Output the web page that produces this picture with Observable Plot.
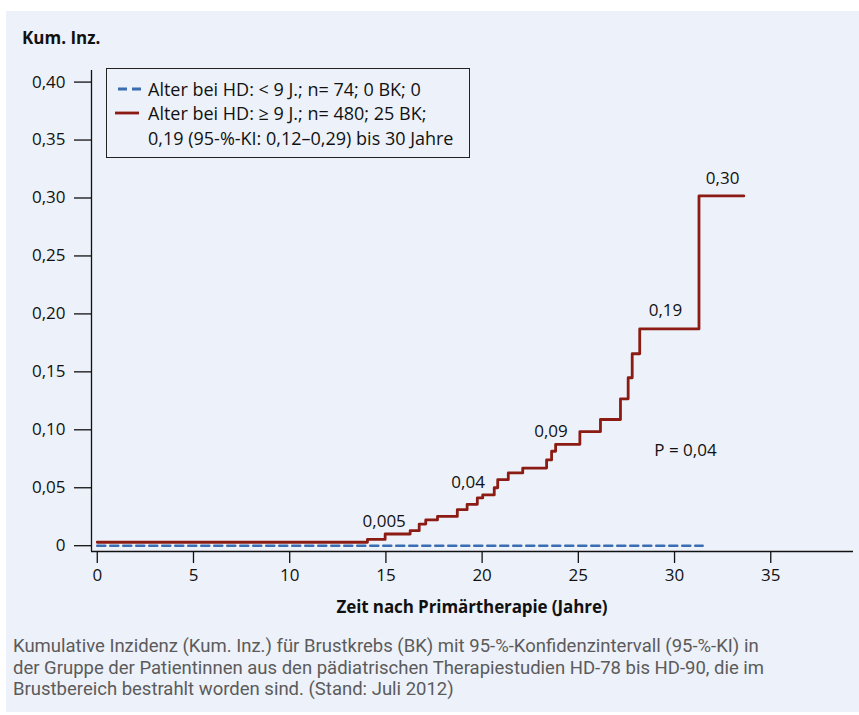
<!DOCTYPE html>
<html><head><meta charset="utf-8">
<script src="https://cdn.jsdelivr.net/npm/d3@7"></script>
<script src="https://cdn.jsdelivr.net/npm/@observablehq/plot@0.6"></script>
<style>
body{margin:0;background:#fff;font-family:"Open Sans",Lato,sans-serif;color:#111;}
#wrap{position:relative;width:859px;height:715px;overflow:hidden;}
#panel{position:absolute;left:6px;top:11px;width:853px;height:701px;background:#edf1f9;}
#chart{position:absolute;left:0;top:0;}
#ytitle{position:absolute;left:22px;top:26px;font-weight:bold;font-size:17px;line-height:24px;}
#xtitle{position:absolute;left:91px;width:762px;text-align:center;top:595px;font-weight:bold;font-size:17px;line-height:24px;letter-spacing:-0.1px;}
#legend{position:absolute;left:106px;top:68px;width:364px;height:90px;border:1.5px solid #222;box-sizing:border-box;background:#edf1f9;font-size:18px;}
.lrow{position:absolute;left:41px;white-space:nowrap;line-height:22px;}
.sw{position:absolute;}
#caption{position:absolute;left:13px;top:636px;font-family:Roboto,"Open Sans",sans-serif;font-size:18.5px;color:#5b5b5b;line-height:21.5px;}
</style></head>
<body>
<div id="wrap">
  <div id="panel"></div>
  <div id="chart"></div>
  <div id="ytitle">Kum. Inz.</div>
  <div id="xtitle">Zeit nach Primärtherapie (Jahre)</div>
  <div id="legend"></div>
  <div id="caption"></div>
</div>
<script>
// ---- data ----
const xDomain = [-0.3, 39.3];
const yDomain = [-0.005, 0.41];
const xTicks = [0, 5, 10, 15, 20, 25, 30, 35];
const xTickLabels = ["0", "5", "10", "15", "20", "25", "30", "35"];
const yTicks = [0, 0.05, 0.1, 0.15, 0.2, 0.25, 0.3, 0.35, 0.4];
const yTickLabels = ["0", "0,05", "0,10", "0,15", "0,20", "0,25", "0,30", "0,35", "0,40"];

// Alter bei HD ≥ 9 J. (step function)
const redTime  = [0, 14.04, 14.96, 16.26, 16.73, 17.07, 17.68, 18.71, 19.22, 19.75, 20.03, 20.63, 20.81, 21.36, 22.11, 23.35, 23.61, 23.82, 25.08, 26.15, 27.19, 27.59, 27.8, 28.19, 31.27, 33.6];
const redValue = [0.003, 0.0054, 0.0101, 0.013, 0.0187, 0.0222, 0.0253, 0.0311, 0.0357, 0.0412, 0.0438, 0.0500, 0.057, 0.0628, 0.067, 0.074, 0.0815, 0.0875, 0.0985, 0.1089, 0.1267, 0.1449, 0.1656, 0.187, 0.3018, 0.3018];

// Alter bei HD < 9 J.
const blueTime  = [0, 31.46];
const blueValue = [0, 0];

const noteText = ["0,005", "0,04", "0,09", "0,19", "0,30", "P = 0,04"];
const noteX    = [14.91, 19.27, 23.58, 29.53, 32.5, 30.57];
const noteY    = [0.0207, 0.0547, 0.0988, 0.203, 0.317, 0.082];

const seriesLabels = ["Alter bei HD: < 9 J.; n= 74; 0 BK; 0",
                      "Alter bei HD: ≥ 9 J.; n= 480; 25 BK;",
                      "0,19 (95-%-KI: 0,12–0,29) bis 30 Jahre"];
const captionLines = ["Kumulative Inzidenz (Kum. Inz.) für Brustkrebs (BK) mit 95-%-Konfidenzintervall (95-%-KI) in",
                      "der Gruppe der Patientinnen aus den pädiatrischen Therapiestudien HD-78 bis HD-90, die im",
                      "Brustbereich bestrahlt worden sind. (Stand: Juli 2012)"];

const RED = "#8c1b13", BLUE = "#3b6db3";

// ---- tables ----
const red = redTime.map((t, i) => ({t, v: redValue[i]}));
const blue = blueTime.map((t, i) => ({t, v: blueValue[i]}));
const notes = noteText.map((s, i) => ({s, x: noteX[i], y: noteY[i]}));
const yLab = yTicks.map((v, i) => ({v, s: yTickLabels[i]}));

const FONT = "'Open Sans', Lato, sans-serif";
const chart = Plot.plot({
  width: 859, height: 600,
  marginLeft: 91, marginRight: 6, marginTop: 70, marginBottom: 49,
  style: {background: "transparent", fontFamily: FONT, fontSize: "17px", color: "#111"},
  x: {domain: xDomain},
  y: {domain: yDomain},
  marks: [
    Plot.axisX({ticks: xTicks, tickSize: 12, tickPadding: 5, strokeWidth: 1.3, fontSize: 17, label: null,
                tickFormat: d => xTickLabels[xTicks.indexOf(d)]}),
    Plot.axisY({ticks: yTicks, tickSize: 17, strokeWidth: 1.3, label: null, tickFormat: () => ""}),
    Plot.text(yLab, {x: () => xDomain[0], y: "v", text: "s", textAnchor: "end", dx: -26, fontSize: 17, fill: "#111"}),
    Plot.ruleX([xDomain[0]], {stroke: "#111", strokeWidth: 1.3}),
    Plot.ruleY([yDomain[0]], {stroke: "#111", strokeWidth: 1.3}),
    Plot.line(blue, {x: "t", y: "v", stroke: BLUE, strokeWidth: 2.6, strokeDasharray: "8,5"}),
    Plot.line(red, {x: "t", y: "v", stroke: RED, strokeWidth: 2.8, curve: "step-after"}),
    Plot.text(notes, {x: "x", y: "y", text: "s", fontSize: 17, fill: "#111", textAnchor: "middle"})
  ]
});
document.getElementById("chart").appendChild(chart);

// ---- legend ----
const lg = document.getElementById("legend");
const rowTops = [9, 33, 58];
seriesLabels.forEach((s, i) => {
  const d = document.createElement("div");
  d.className = "lrow"; d.style.top = rowTops[i] + "px"; d.textContent = s;
  lg.appendChild(d);
});
function swatch(top, color, dash, x1, x2) {
  const ns = "http://www.w3.org/2000/svg";
  const svg = document.createElementNS(ns, "svg");
  svg.setAttribute("class", "sw"); svg.setAttribute("width", 40); svg.setAttribute("height", 6);
  svg.style.left = "0px"; svg.style.top = (top + 8) + "px";
  const l = document.createElementNS(ns, "line");
  l.setAttribute("x1", x1); l.setAttribute("x2", x2); l.setAttribute("y1", 3); l.setAttribute("y2", 3);
  l.setAttribute("stroke", color); l.setAttribute("stroke-width", 2.8);
  if (dash) l.setAttribute("stroke-dasharray", dash);
  svg.appendChild(l); lg.appendChild(svg);
}
swatch(rowTops[0], BLUE, "9,5", 11, 36);
swatch(rowTops[1], RED, null, 8, 32);

// ---- caption ----
const cap = document.getElementById("caption");
captionLines.forEach(s => { const d = document.createElement("div"); d.textContent = s; cap.appendChild(d); });
</script>
</body></html>
